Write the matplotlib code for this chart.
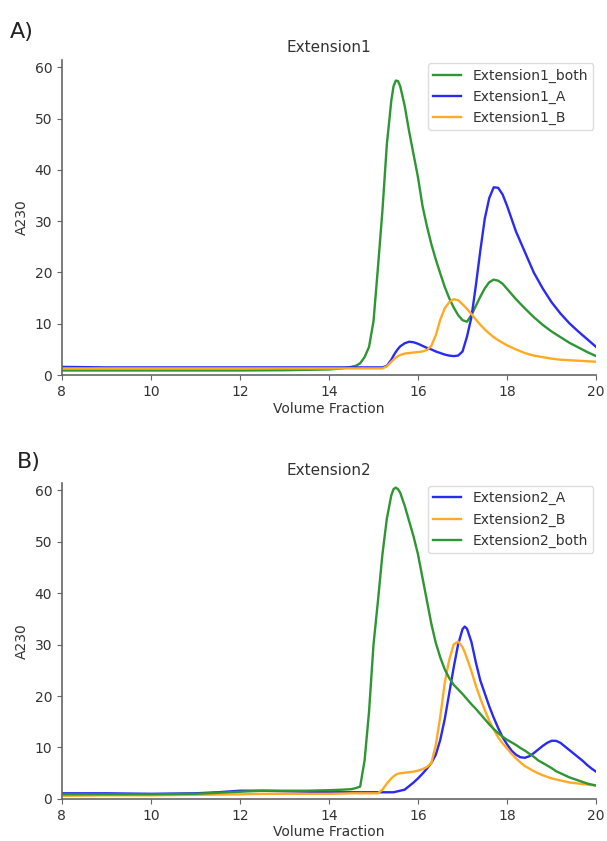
import matplotlib
matplotlib.use("Agg")
import matplotlib.pyplot as plt

# ---- panel A : Extension1 ----
x1 = [8, 9, 10, 11, 12, 13, 14, 14.3,
      14.5, 14.6, 14.7, 14.8, 14.9, 15.0, 15.1, 15.2, 15.3, 15.4, 15.45,
      15.5, 15.55, 15.6, 15.7, 15.8, 15.9, 16.0, 16.1, 16.2, 16.3, 16.4,
      16.5, 16.6, 16.7, 16.8, 16.9, 17.0, 17.1, 17.2, 17.3, 17.4,
      17.5, 17.6, 17.7, 17.8, 17.9, 18.0,
      18.2, 18.4, 18.6, 18.8, 19.0, 19.2, 19.4, 19.6, 19.8, 20.0]

ext1_both = [0.9, 0.9, 0.9, 0.9, 0.9, 0.95, 1.1, 1.3,
             1.6, 1.8, 2.3, 3.5, 5.5, 10.5, 21.0, 32.0, 45.0, 53.5, 56.3,
             57.4, 57.3, 56.3, 52.5, 47.5, 43.0, 38.5, 33.0, 29.0, 25.5, 22.5,
             19.8, 17.2, 15.0, 13.2, 11.7, 10.7, 10.4, 11.7, 13.5, 15.3,
             16.9, 18.1, 18.6, 18.4, 17.8, 16.8,
             14.8, 13.0, 11.3, 9.8, 8.5, 7.4, 6.3, 5.4, 4.5, 3.7]

ext1_A = [1.6, 1.5, 1.5, 1.5, 1.5, 1.5, 1.5, 1.5,
          1.5, 1.5, 1.5, 1.5, 1.5, 1.5, 1.5, 1.5, 1.8, 3.0, 3.8,
          4.5, 5.1, 5.6, 6.2, 6.5, 6.4, 6.1, 5.7, 5.3, 5.0, 4.6,
          4.3, 4.0, 3.8, 3.7, 3.8, 4.6, 7.5, 11.3, 17.5, 24.3,
          30.5, 34.5, 36.6, 36.5, 35.2, 33.0,
          28.0, 24.0, 20.0, 16.9, 14.2, 12.0, 10.1, 8.5, 7.0, 5.5]

ext1_B = [1.3, 1.3, 1.3, 1.3, 1.3, 1.3, 1.3, 1.3,
          1.3, 1.3, 1.3, 1.3, 1.3, 1.3, 1.3, 1.3, 1.7, 2.6, 3.0,
          3.4, 3.7, 3.9, 4.2, 4.3, 4.4, 4.5, 4.6, 4.9, 5.7, 7.8,
          10.8, 13.0, 14.2, 14.8, 14.6, 13.8, 12.9, 11.9, 10.8, 9.8,
          8.9, 8.1, 7.4, 6.8, 6.3, 5.8,
          5.0, 4.3, 3.8, 3.5, 3.2, 3.0, 2.9, 2.8, 2.7, 2.6]

# ---- panel B : Extension2 ----
x2 = [8, 9, 10, 11, 11.5, 12, 12.5, 13, 13.5, 14, 14.3,
      14.5, 14.6, 14.7, 14.8, 14.9, 15.0, 15.1, 15.2, 15.3, 15.4, 15.45,
      15.5, 15.55, 15.6, 15.7, 15.8, 15.9, 16.0, 16.1, 16.2, 16.3, 16.4,
      16.5, 16.6, 16.7, 16.8, 16.9, 17.0, 17.05, 17.1, 17.2, 17.3, 17.4,
      17.5, 17.6, 17.7, 17.8, 17.9, 18.0, 18.1, 18.2, 18.3, 18.4,
      18.5, 18.6, 18.7, 18.8, 18.9, 19.0, 19.1, 19.2, 19.3, 19.4,
      19.5, 19.6, 19.7, 19.8, 19.9, 20.0]

ext2_A = [1.1, 1.1, 1.0, 1.1, 1.3, 1.6, 1.6, 1.5, 1.4, 1.3, 1.3,
          1.3, 1.3, 1.3, 1.3, 1.3, 1.3, 1.3, 1.3, 1.3, 1.3, 1.3,
          1.4, 1.5, 1.6, 1.8, 2.5, 3.2, 4.0, 4.9, 5.9, 7.0, 8.6,
          11.5, 15.5, 20.5, 25.5, 30.0, 33.0, 33.5, 33.1, 30.5, 26.5, 23.0,
          20.5, 18.0, 15.8, 13.8, 12.0, 10.6, 9.4, 8.6, 8.1, 8.0,
          8.3, 8.9, 9.6, 10.3, 10.9, 11.3, 11.3, 10.9, 10.2, 9.5,
          8.8, 8.1, 7.4, 6.6, 5.9, 5.3]

ext2_B = [0.6, 0.7, 0.7, 0.8, 0.85, 0.9, 1.0, 1.0, 1.0, 1.0, 1.05,
          1.1, 1.1, 1.1, 1.1, 1.1, 1.1, 1.1, 1.8, 3.0, 4.0, 4.4,
          4.7, 4.9, 5.0, 5.1, 5.2, 5.3, 5.5, 5.8, 6.2, 7.0, 10.5,
          16.0, 22.5, 27.0, 30.0, 30.6, 29.5, 28.5, 27.3, 24.8, 22.0, 19.5,
          17.3, 15.2, 13.5, 12.0, 10.8, 9.8, 8.8, 7.9, 7.1, 6.4,
          5.9, 5.4, 5.0, 4.6, 4.3, 4.0, 3.8, 3.6, 3.4, 3.2,
          3.1, 3.0, 2.9, 2.8, 2.7, 2.6]

ext2_both = [0.9, 0.9, 0.9, 1.0, 1.2, 1.4, 1.6, 1.6, 1.6, 1.7, 1.8,
             1.9, 2.1, 2.4, 7.5, 17.0, 30.0, 38.5, 47.5, 54.5, 59.0, 60.2,
             60.5, 60.2, 59.5, 57.0, 54.0, 51.0, 47.5, 43.0, 38.5, 34.0, 30.3,
             27.5, 25.2, 23.5, 22.2, 21.3, 20.4, 19.9, 19.4, 18.4, 17.5, 16.5,
             15.5, 14.5, 13.6, 12.8, 12.1, 11.5, 11.0, 10.5, 9.9, 9.4,
             8.8, 8.2, 7.5, 7.0, 6.5, 6.0, 5.4, 5.0, 4.6, 4.2,
             3.9, 3.6, 3.3, 3.0, 2.8, 2.6]

green = '#2e9632'
blue = '#2a2af5'
orange = '#ffaa22'

fig = plt.figure(figsize=(6.07, 8.41), dpi=100)
ax1 = fig.add_axes([0.102, 0.554, 0.880, 0.3746])
ax2 = fig.add_axes([0.102, 0.050, 0.880, 0.3757])

ax1.plot(x1, ext1_both, color=green, lw=1.7, label='Extension1_both')
ax1.plot(x1, ext1_A, color=blue, lw=1.7, label='Extension1_A')
ax1.plot(x1, ext1_B, color=orange, lw=1.7, label='Extension1_B')
ax1.set_title('Extension1', fontsize=11, color='#333333')

ax2.plot(x2, ext2_A, color=blue, lw=1.7, label='Extension2_A')
ax2.plot(x2, ext2_B, color=orange, lw=1.7, label='Extension2_B')
ax2.plot(x2, ext2_both, color=green, lw=1.7, label='Extension2_both')
ax2.set_title('Extension2', fontsize=11, color='#333333')

for ax in (ax1, ax2):
    ax.set_xlim(8, 20)
    ax.set_ylim(0, 61.4)
    ax.set_xticks([8, 10, 12, 14, 16, 18, 20])
    ax.set_yticks([0, 10, 20, 30, 40, 50, 60])
    ax.spines['top'].set_visible(False)
    ax.spines['right'].set_visible(False)
    for s in ('left', 'bottom'):
        ax.spines[s].set_color('#666666')
        ax.spines[s].set_linewidth(1.2)
    ax.tick_params(labelsize=10, colors='#666666', labelcolor='#333333')
    ax.set_xlabel('Volume Fraction', fontsize=10, color='#333333', labelpad=2)
    ax.set_ylabel('A230', fontsize=10, color='#333333')
    leg = ax.legend(loc='upper right', fontsize=10, framealpha=1,
                    borderaxespad=0.2)
    leg.get_frame().set_edgecolor('#dddddd')
    for t in leg.get_texts():
        t.set_color('#333333')

fig.text(0.016, 0.955, 'A)', fontsize=16, color='#222222')
fig.text(0.028, 0.443, 'B)', fontsize=16, color='#222222')

fig.savefig('out.png', dpi=100)
